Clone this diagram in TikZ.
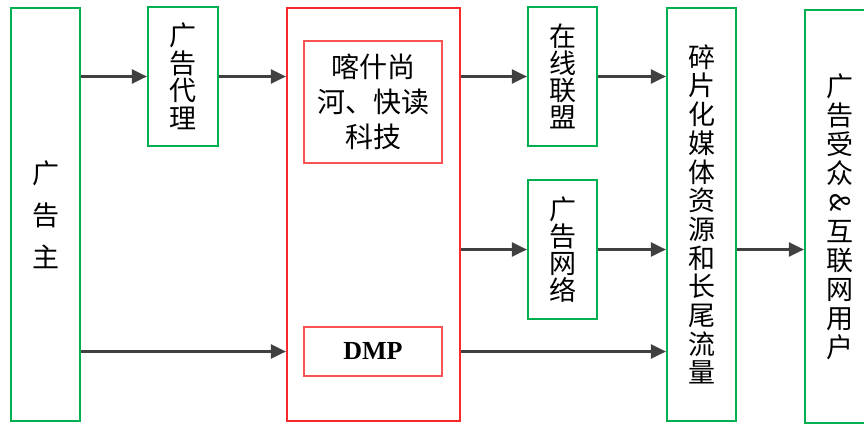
\documentclass[tikz,border=0pt]{standalone}
\usepackage{fontspec}
\setmainfont{Liberation Serif}
\newfontfamily\cjk{Noto Sans CJK SC}
\usetikzlibrary{arrows.meta}
\definecolor{boxgreen}{RGB}{0,176,80}
\definecolor{boxred}{RGB}{250,40,40}
\definecolor{arrgray}{RGB}{64,64,64}
\tikzset{
  gbox/.style={draw=boxgreen,line width=2.2pt,inner sep=0pt,align=center},
  rbox/.style={draw=boxred,line width=2.2pt,inner sep=0pt},
  innerbox/.style={draw=boxred!80,line width=1.6pt,inner sep=0pt,align=center,
    minimum width=138pt},
  arr/.style={draw=arrgray,line width=2.4pt,-{Triangle[length=15pt,width=14pt]}}
}
\begin{document}
\begin{tikzpicture}[x=1pt,y=-1pt]
    \useasboundingbox (0,0) rectangle (864,423);
    % advertiser
    \node[gbox,minimum width=69pt,minimum height=413pt,
      font=\cjk\fontsize{27}{42}\selectfont] (zhu) at (45.5,214.5) {广\\告\\主};
    % agency
    \node[gbox,minimum width=70pt,minimum height=139pt,
      font=\cjk\fontsize{27}{27.5}\selectfont] (daili) at (183,76.5) {广\\告\\代\\理};

    % platform
    \node[rbox,minimum width=173pt,minimum height=413pt] (big) at (373.5,214.5) {};
    \node[innerbox,minimum height=122pt,
      font=\cjk\fontsize{28}{35}\selectfont] (kashi) at (373,102) {喀什尚\\河、快读\\科技};
    \node[innerbox,minimum height=49pt,
      font=\bfseries\fontsize{26}{30}\selectfont] (dmp) at (373,351.5) {DMP};

    % networks
    \node[gbox,minimum width=69pt,minimum height=139pt,
      font=\cjk\fontsize{27}{27}\selectfont] (lianmeng) at (562.5,76.5) {在\\线\\联\\盟};
    \node[gbox,minimum width=69pt,minimum height=139pt,
      font=\cjk\fontsize{27}{27}\selectfont] (wangluo) at (562.5,249.5) {广\\告\\网\\络};

    % media and audience
    \node[gbox,minimum width=69pt,minimum height=413pt,
      font=\cjk\fontsize{27}{28.7}\selectfont] (frag) at (701.5,214.5)
      {碎\\片\\化\\媒\\体\\资\\源\\和\\长\\尾\\流\\量};
    \node[gbox,minimum width=70pt,minimum height=413pt,
      font=\cjk\fontsize{27}{29}\selectfont] (aud) at (840,216.5)
      {广\\告\\受\\众\\\rotatebox[origin=c]{-90}{\&}\\互\\联\\网\\用\\户};

    % arrows
    \draw[arr] (zhu.east |- daili) -- (daili);
    \draw[arr] (daili) -- (daili -| big.west);
    \draw[arr] (zhu.east |- dmp) -- (dmp -| big.west);
    \draw[arr] (lianmeng -| big.east) -- (lianmeng);
    \draw[arr] (wangluo -| big.east) -- (wangluo);
    \draw[arr] (lianmeng) -- (lianmeng -| frag.west);
    \draw[arr] (wangluo) -- (wangluo -| frag.west);
    \draw[arr] (dmp -| big.east) -- (dmp -| frag.west);
    \draw[arr] (wangluo -| frag.east) -- (wangluo -| aud.west);
\end{tikzpicture}
\end{document}
